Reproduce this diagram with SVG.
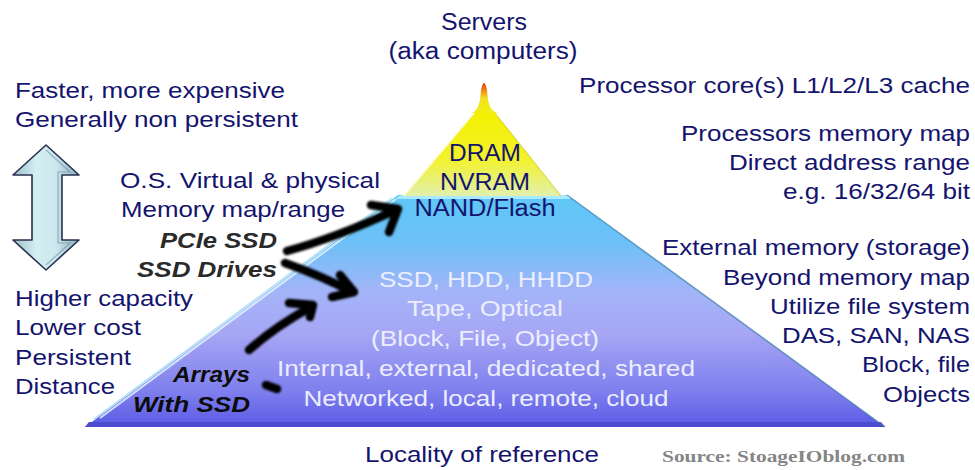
<svg xmlns="http://www.w3.org/2000/svg" width="975" height="470" viewBox="0 0 975 470">
  <defs>
    <linearGradient id="bodyGrad" x1="0" y1="195" x2="0" y2="427" gradientUnits="userSpaceOnUse">
      <stop offset="0" stop-color="#5ec8f6"/>
      <stop offset="0.2" stop-color="#6cc0f8"/>
      <stop offset="0.42" stop-color="#a4b4f8"/>
      <stop offset="0.6" stop-color="#a6a6f4"/>
      <stop offset="0.85" stop-color="#7e7eee"/>
      <stop offset="1" stop-color="#5a5ae4"/>
    </linearGradient>
    <linearGradient id="yellowGrad" x1="0" y1="112" x2="0" y2="197" gradientUnits="userSpaceOnUse">
      <stop offset="0" stop-color="#f4f000"/>
      <stop offset="0.55" stop-color="#f2f22a"/>
      <stop offset="1" stop-color="#e2f0b0"/>
    </linearGradient>
    <linearGradient id="spikeGrad" x1="0" y1="80" x2="0" y2="113" gradientUnits="userSpaceOnUse">
      <stop offset="0" stop-color="#e01800"/>
      <stop offset="0.25" stop-color="#f07010"/>
      <stop offset="0.55" stop-color="#f0e020"/>
      <stop offset="1" stop-color="#f2f010"/>
    </linearGradient>
    <linearGradient id="arrowGrad" x1="13" y1="0" x2="79" y2="0" gradientUnits="userSpaceOnUse">
      <stop offset="0" stop-color="#9cbfc8"/>
      <stop offset="0.35" stop-color="#d4eef2"/>
      <stop offset="0.65" stop-color="#cce8ee"/>
      <stop offset="1" stop-color="#8eb2bc"/>
    </linearGradient>
    <filter id="soft" x="-20%" y="-20%" width="140%" height="140%">
      <feGaussianBlur stdDeviation="1"/>
    </filter>
    <style>
      .t { font-family: "Liberation Sans", Arial, sans-serif; font-size: 22.5px; fill: #14146e; }
      .tp { font-family: "Liberation Sans", Arial, sans-serif; font-size: 23px; fill: #14146e; }
      .tw { font-family: "Liberation Sans", Arial, sans-serif; font-size: 22.5px; fill: #eceeff; }
      .bi { font-family: "Liberation Sans", Arial, sans-serif; font-size: 22px; font-weight: bold; font-style: italic; }
      .src { font-family: "Liberation Serif", "Times New Roman", serif; font-size: 17.5px; font-weight: bold; fill: #858585; }
      .ink { fill: none; stroke: #050505; stroke-width: 8.5; stroke-linecap: round; stroke-linejoin: round; }
    </style>
  </defs>
  <rect width="975" height="470" fill="#ffffff"/>

  <!-- Pyramid -->
  <g id="pyramid">
    <path d="M398,195 L567,195 L885,427 L85,427 Z" fill="url(#bodyGrad)"/>
    <path d="M89,422 L881,422 L885,427 L85,427 Z" fill="#4c4cce"/>
    <path d="M100,418 L396,199" stroke="#dff6ff" stroke-width="2" fill="none" opacity="0.85"/>
    <path d="M94,419 L392,198" stroke="#8fd8f4" stroke-width="1.5" fill="none" opacity="0.8"/>
    <path d="M567,195 L885,427" stroke="#3a7ca8" stroke-width="1.5" fill="none" opacity="0.7"/>
    <path d="M404,195 Q398,195 396,199 L570,199 Q569,195 563,195 Z" fill="#a8eaff"/>
    <path d="M475,112 L494,112 L561,196 L404,196 Z" fill="url(#yellowGrad)"/>
    <path d="M475,112 L404,196" stroke="#fbfbc8" stroke-width="1.5" fill="none"/>
    <path d="M494,112 L561,196" stroke="#d6cc20" stroke-width="1.2" fill="none" opacity="0.7"/>
    <path d="M471,113 C479,111 480,102 481,90 Q484,76 487,90 C488,102 489,111 498,113 Z" fill="url(#spikeGrad)"/>
  </g>

  <!-- Double arrow -->
  <g id="speed-arrow">
    <path d="M46,145 L79,175 L62,175 L62,240 L79,240 L46,270 L13,240 L32,240 L32,175 L13,175 Z" fill="url(#arrowGrad)" stroke="#283050" stroke-width="1.6" stroke-linejoin="round"/>
    <path d="M46,150 L70,172 L58,172 L58,243 L70,243 L46,265" fill="none" stroke="#6f8a98" stroke-width="1.2" opacity="0.6"/>
  </g>

  <!-- Hand-drawn connectors -->
  <g id="connectors" filter="url(#soft)">
    <path class="ink" d="M287,251 Q335,238 396,210"/>
    <path class="ink" d="M371,205 L398,209 L389,232"/>
    <path class="ink" d="M285,263 Q322,276 352,292"/>
    <path class="ink" d="M340,275 L354,292 L332,297"/>
    <path class="ink" d="M249,350 Q276,326 311,307"/>
    <path class="ink" d="M289,303 L313,305 L310,317"/>
    <path class="ink" d="M266,385 L277,389" stroke-width="13"/>
  </g>

  <!-- Top labels -->
  <g id="servers">
    <text class="tp" x="484" y="30" text-anchor="middle" textLength="86" lengthAdjust="spacingAndGlyphs">Servers</text>
    <text class="tp" x="483" y="59" text-anchor="middle" textLength="189" lengthAdjust="spacingAndGlyphs">(aka computers)</text>
  </g>

  <!-- Left labels -->
  <g id="left-top">
    <text class="t" x="15" y="98" textLength="270" lengthAdjust="spacingAndGlyphs">Faster, more expensive</text>
    <text class="t" x="15" y="127" textLength="283" lengthAdjust="spacingAndGlyphs">Generally non persistent</text>
  </g>
  <g id="os-virtual">
    <text class="t" x="120" y="188" textLength="260" lengthAdjust="spacingAndGlyphs">O.S. Virtual &amp; physical</text>
    <text class="t" x="121" y="217" textLength="224" lengthAdjust="spacingAndGlyphs">Memory map/range</text>
  </g>
  <g id="pcie-ssd">
    <text class="bi" x="277" y="248" text-anchor="end" fill="#2a2a2a" textLength="117" lengthAdjust="spacingAndGlyphs">PCIe SSD</text>
  </g>
  <g id="ssd-drives">
    <text class="bi" x="277" y="277" text-anchor="end" fill="#2a2a2a" textLength="140" lengthAdjust="spacingAndGlyphs">SSD Drives</text>
  </g>
  <g id="left-bottom">
    <text class="t" x="15" y="306" textLength="178" lengthAdjust="spacingAndGlyphs">Higher capacity</text>
    <text class="t" x="15" y="335" textLength="126" lengthAdjust="spacingAndGlyphs">Lower cost</text>
    <text class="t" x="15" y="365" textLength="116" lengthAdjust="spacingAndGlyphs">Persistent</text>
    <text class="t" x="15" y="394" textLength="100" lengthAdjust="spacingAndGlyphs">Distance</text>
  </g>
  <g id="arrays-ssd">
    <text class="bi" x="250" y="382" text-anchor="end" fill="#0c0c0c" textLength="77" lengthAdjust="spacingAndGlyphs">Arrays</text>
    <text class="bi" x="250" y="412" text-anchor="end" fill="#0c0c0c" textLength="117" lengthAdjust="spacingAndGlyphs">With SSD</text>
  </g>

  <!-- Pyramid tier labels -->
  <g id="tier-dram">
    <text class="tp" x="485" y="161" text-anchor="middle" textLength="72" lengthAdjust="spacingAndGlyphs">DRAM</text>
    <text class="tp" x="485" y="190" text-anchor="middle" textLength="90" lengthAdjust="spacingAndGlyphs">NVRAM</text>
  </g>
  <g id="tier-nand">
    <text class="tp" x="485" y="216" text-anchor="middle" textLength="141" lengthAdjust="spacingAndGlyphs">NAND/Flash</text>
  </g>
  <g id="tier-storage">
    <text class="tw" x="486" y="287" text-anchor="middle" textLength="214" lengthAdjust="spacingAndGlyphs">SSD, HDD, HHDD</text>
    <text class="tw" x="485" y="316" text-anchor="middle" textLength="156" lengthAdjust="spacingAndGlyphs">Tape, Optical</text>
    <text class="tw" x="485" y="346" text-anchor="middle" textLength="228" lengthAdjust="spacingAndGlyphs">(Block, File, Object)</text>
    <text class="tw" x="486" y="376" text-anchor="middle" textLength="418" lengthAdjust="spacingAndGlyphs">Internal, external, dedicated, shared</text>
    <text class="tw" x="486" y="406" text-anchor="middle" textLength="365" lengthAdjust="spacingAndGlyphs">Networked, local, remote, cloud</text>
  </g>

  <!-- Right labels -->
  <g id="right-cache">
    <text class="t" x="970" y="93" text-anchor="end" textLength="391" lengthAdjust="spacingAndGlyphs">Processor core(s) L1/L2/L3 cache</text>
  </g>
  <g id="right-memory">
    <text class="t" x="970" y="141" text-anchor="end" textLength="289" lengthAdjust="spacingAndGlyphs">Processors memory map</text>
    <text class="t" x="970" y="170" text-anchor="end" textLength="241" lengthAdjust="spacingAndGlyphs">Direct address range</text>
    <text class="t" x="970" y="199" text-anchor="end" textLength="187" lengthAdjust="spacingAndGlyphs">e.g. 16/32/64 bit</text>
  </g>
  <g id="right-storage">
    <text class="t" x="970" y="255" text-anchor="end" textLength="308" lengthAdjust="spacingAndGlyphs">External memory (storage)</text>
    <text class="t" x="970" y="285" text-anchor="end" textLength="247" lengthAdjust="spacingAndGlyphs">Beyond memory map</text>
    <text class="t" x="970" y="314" text-anchor="end" textLength="200" lengthAdjust="spacingAndGlyphs">Utilize file system</text>
    <text class="t" x="970" y="343" text-anchor="end" textLength="188" lengthAdjust="spacingAndGlyphs">DAS, SAN, NAS</text>
    <text class="t" x="970" y="372" text-anchor="end" textLength="108" lengthAdjust="spacingAndGlyphs">Block, file</text>
    <text class="t" x="970" y="402" text-anchor="end" textLength="87" lengthAdjust="spacingAndGlyphs">Objects</text>
  </g>

  <!-- Bottom -->
  <g id="locality">
    <text class="t" x="482" y="462" text-anchor="middle" textLength="234" lengthAdjust="spacingAndGlyphs">Locality of reference</text>
  </g>
  <g id="source">
    <text class="src" x="662" y="462" textLength="243" lengthAdjust="spacingAndGlyphs">Source: StoageIOblog.com</text>
  </g>
</svg>
